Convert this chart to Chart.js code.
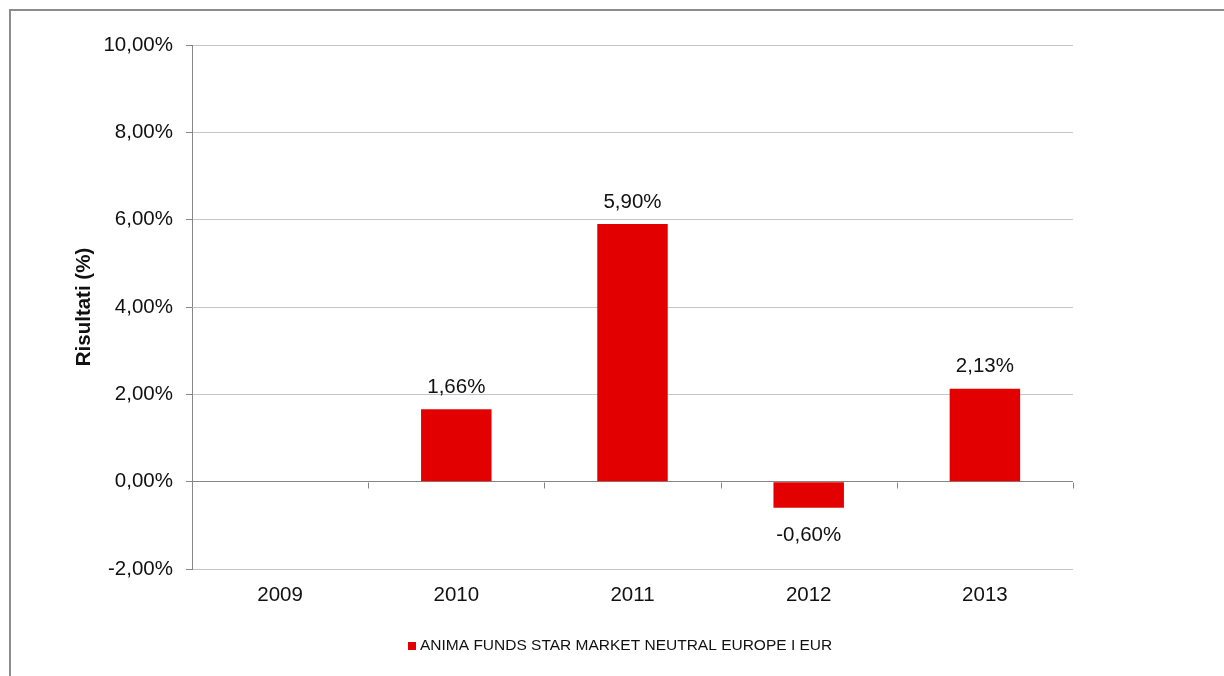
<!DOCTYPE html>
<html>
<head>
<meta charset="utf-8">
<script src="https://cdn.jsdelivr.net/npm/chart.js@4"></script>
<style>
  html, body { margin: 0; padding: 0; background: #fff; }
  #wrap { position: relative; width: 1224px; height: 676px; }
</style>
</head>
<body>
<div id="wrap"><canvas id="chart" width="1224" height="676"></canvas></div>
<script>
// data
const years = ["2009", "2010", "2011", "2012", "2013"];
const returns = [null, 1.66, 5.90, -0.60, 2.13];
const seriesName = "ANIMA FUNDS STAR MARKET NEUTRAL EUROPE I EUR";
const axisTitle = "Risultati (%)";

const FONT = "'Liberation Sans', Arial, sans-serif";
const FS = 20.5;
const RED = "#e30000";
const AXIS = "#868686";
const GRID = "#c6c6c6";

const fmt = (v) => v.toFixed(2).replace(".", ",") + "%";

// outer frame (top + left only are visible)
const framePlugin = {
  id: "frame",
  beforeDraw(chart) {
    const ctx = chart.ctx;
    ctx.save();
    ctx.strokeStyle = "#8c8c8c";
    ctx.lineWidth = 2;
    ctx.beginPath();
    ctx.moveTo(10, 676);
    ctx.lineTo(10, 10);
    ctx.lineTo(1224, 10);
    ctx.stroke();
    ctx.restore();
  },
};

// small tick marks under the zero line between categories
const zeroTicksPlugin = {
  id: "zeroTicks",
  afterDraw(chart) {
    const x = chart.scales.x;
    const y = chart.scales.y;
    const y0 = Math.round(y.getPixelForValue(0)) + 0.5;
    const ctx = chart.ctx;
    const step = (x.right - x.left) / years.length;
    ctx.save();
    ctx.strokeStyle = AXIS;
    ctx.lineWidth = 1;
    ctx.beginPath();
    for (let i = 1; i <= years.length; i++) {
      const px = Math.round(x.left + step * i) + 0.5;
      ctx.moveTo(px, y0);
      ctx.lineTo(px, y0 + 6);
    }
    ctx.stroke();
    ctx.restore();
  },
};

// value labels above / below bars
const valueLabelsPlugin = {
  id: "valueLabels",
  afterDatasetsDraw(chart) {
    const ctx = chart.ctx;
    const meta = chart.getDatasetMeta(0);
    ctx.save();
    ctx.font = FS + "px " + FONT;
    ctx.fillStyle = "#111";
    ctx.textAlign = "center";
    ctx.textBaseline = "middle";
    meta.data.forEach((bar, i) => {
      const v = returns[i];
      if (v === null) return;
      const ty = v >= 0 ? bar.y - 22 : bar.y + 27;
      ctx.fillText(fmt(v), bar.x, ty);
    });
    ctx.restore();
  },
};

// legend below the axis
const legendPlugin = {
  id: "bottomLegend",
  afterDraw(chart) {
    const ctx = chart.ctx;
    ctx.save();
    ctx.font = "15.5px " + FONT;
    const tw = ctx.measureText(seriesName).width;
    const box = 8;
    const gap = 4;
    const total = box + gap + tw;
    const cx = 620;
    const cy = 645.5;
    const left = Math.round(cx - total / 2);
    ctx.fillStyle = RED;
    ctx.fillRect(left, cy - box / 2 + 0.5, box, box);
    ctx.fillStyle = "#111";
    ctx.textBaseline = "middle";
    ctx.textAlign = "left";
    ctx.fillText(seriesName, left + box + gap, cy);
    ctx.restore();
  },
};

new Chart(document.getElementById("chart"), {
  type: "bar",
  data: {
    labels: years,
    datasets: [
      {
        label: seriesName,
        data: returns,
        backgroundColor: RED,
        borderWidth: 0,
        barPercentage: 0.4,
        categoryPercentage: 1,
      },
    ],
  },
  options: {
    responsive: false,
    animation: false,
    devicePixelRatio: 1,
    layout: { padding: { left: 0, right: 151, top: 45, bottom: 0 } },
    plugins: {
      legend: { display: false },
      tooltip: { enabled: false },
    },
    scales: {
      x: {
        offset: true,
        grid: { display: false, drawTicks: false },
        border: { display: false },
        ticks: {
          color: "#111",
          padding: 14,
          font: { family: FONT, size: FS },
        },
        afterFit: (scale) => {
          scale.height = 107;
        },
      },
      y: {
        min: -2,
        max: 10,
        ticks: {
          stepSize: 2,
          color: "#111",
          padding: 13,
          font: { family: FONT, size: FS },
          callback: (v) => fmt(v),
        },
        grid: {
          color: (c) => (c.tick && c.tick.value === 0 ? AXIS : GRID),
          tickColor: AXIS,
          tickLength: 6,
          lineWidth: 1,
        },
        border: { display: true, color: AXIS, width: 1 },
        title: {
          display: true,
          text: axisTitle,
          color: "#111",
          font: { family: FONT, size: FS, weight: "bold" },
          padding: { top: 72, bottom: 0 },
        },
        afterFit: (scale) => {
          scale.width = 192;
        },
      },
    },
  },
  plugins: [framePlugin, zeroTicksPlugin, valueLabelsPlugin, legendPlugin],
});
</script>
</body>
</html>
